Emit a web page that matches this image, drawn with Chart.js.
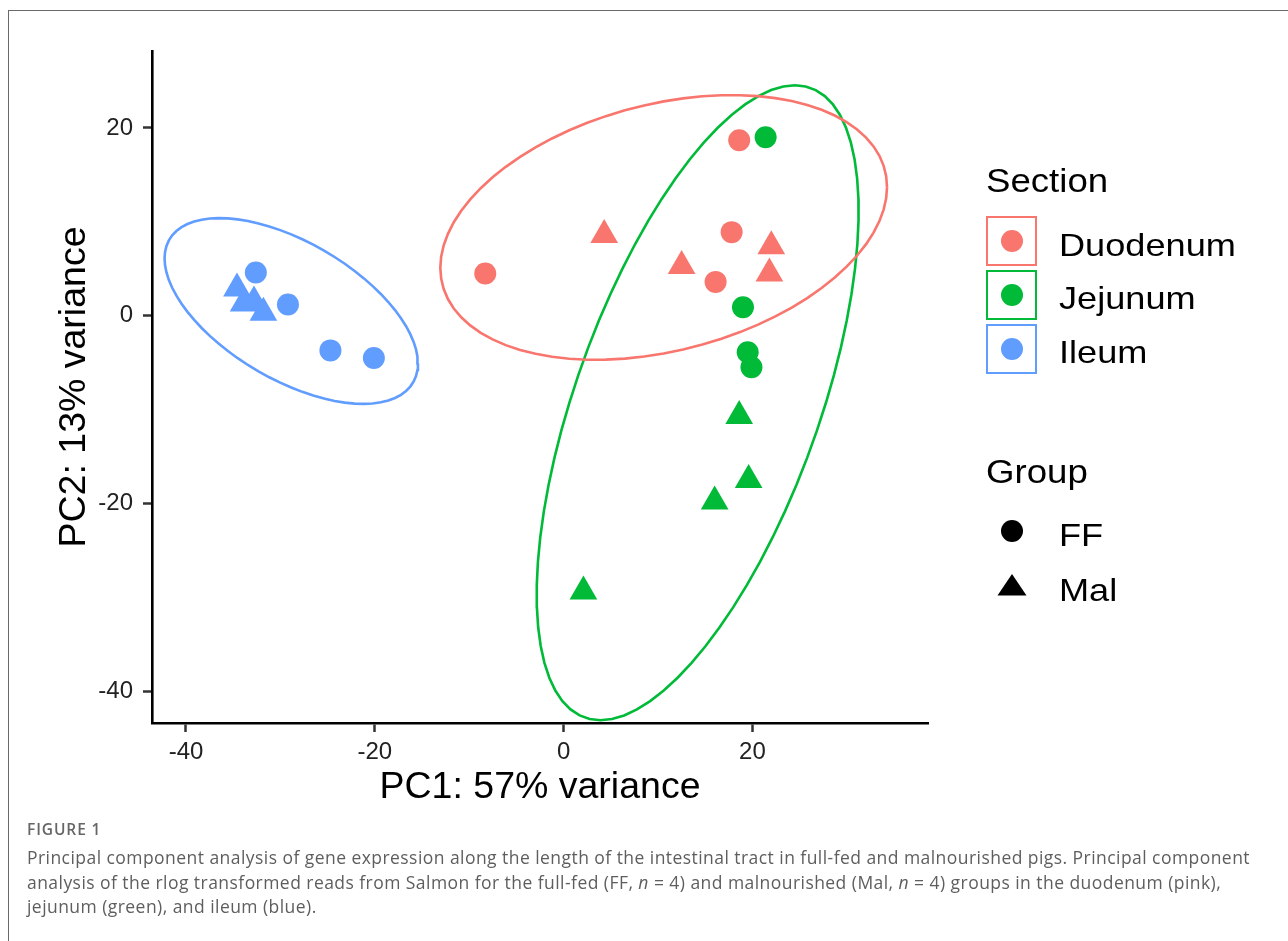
<!DOCTYPE html>
<html>
<head>
<meta charset="utf-8">
<script src="https://cdn.jsdelivr.net/npm/chart.js@4.4.0/dist/chart.umd.min.js"></script>
<style>
  body { margin: 0; background: #fff; width: 1288px; height: 941px; overflow: hidden; position: relative; font-family: "Liberation Sans", Arial, sans-serif; }
  #frame { position: absolute; left: 8px; top: 10px; width: 1400px; height: 1000px; border-left: 1.5px solid #6a6a6a; border-top: 1.5px solid #6a6a6a; }
  #chart { position: absolute; left: 0; top: 0; }
  .leg { position: absolute; color: #000; line-height: 1; white-space: nowrap; transform-origin: left center; }
  .leg-title { font-size: 33px; transform: scaleX(1.11); }
  .leg-text { font-size: 32px; transform: scaleX(1.13); }
  .key { position: absolute; width: 47px; height: 46px; border: 2px solid; }
  .dot { position: absolute; width: 22px; height: 22px; border-radius: 50%; }
  .cap { position: absolute; left: 27px; font-family: "Open Sans", Lato, sans-serif; color: #5e5e5e; white-space: nowrap; }
  #figlabel { top: 818px; font-size: 15.5px; font-weight: 600; letter-spacing: 0.9px; color: #666; }
  #caption { top: 845px; font-size: 17.5px; line-height: 24.5px; }
</style>
</head>
<body>
<div id="frame"></div>
<canvas id="chart" width="1288" height="941"></canvas>

<div class="leg leg-title" style="left:986px; top:164px;">Section</div>
<div id="sectionKeys"></div>
<div class="leg leg-title" style="left:986px; top:455px;">Group</div>
<div id="groupKeys"></div>

<div class="cap" id="figlabel">FIGURE 1</div>
<div class="cap" id="caption"><span id="capline1">Principal component analysis of gene expression along the length of the intestinal tract in full-fed and malnourished pigs. Principal component</span><br>analysis of the rlog transformed reads from Salmon for the full-fed (FF, <i>n</i> = 4) and malnourished (Mal, <i>n</i> = 4) groups in the duodenum (pink),<br>jejunum (green), and ileum (blue).</div>

<script>
// categories
const sections = ["Duodenum", "Jejunum", "Ileum"];
const sectionColors = ["#F8766D", "#00BA38", "#619CFF"];
const groups = ["FF", "Mal"];

// PC1 / PC2 scores, 4 samples per section x group
const duodenumFF_pc1 = [18.6, 17.8, 16.1, -8.3];
const duodenumFF_pc2 = [18.7, 8.9, 3.6, 4.5];
const duodenumMal_pc1 = [4.3, 12.5, 22.0, 21.8];
const duodenumMal_pc2 = [8.6, 5.3, 7.4, 4.5];
const jejunumFF_pc1 = [21.4, 19.0, 19.5, 19.9];
const jejunumFF_pc2 = [19.0, 0.9, -3.9, -5.5];
const jejunumMal_pc1 = [18.6, 19.6, 16.0, 2.1];
const jejunumMal_pc2 = [-10.7, -17.5, -19.8, -29.4];
const ileumFF_pc1 = [-32.6, -29.2, -24.7, -20.1];
const ileumFF_pc2 = [4.6, 1.2, -3.7, -4.5];
const ileumMal_pc1 = [-34.6, -33.9, -32.8, -31.8];
const ileumMal_pc2 = [2.9, 1.3, 1.5, 0.3];

// 95% ellipses (PC units): centre and two conjugate half-axes
const ellipseCx = [10.6, 14.2, -28.85];
const ellipseCy = [9.4, -9.28, 0.5];
const ellipseUx = [23.66, 10.3, 13.42];
const ellipseUy = [4.3, 33.83, -5.6];
const ellipseVx = [0, 13.59, 0];
const ellipseVy = [13.43, 0, 8.16];

const xTicks = [-40, -20, 0, 20];
const yTicks = [-40, -20, 0, 20];

const FONT = "'Liberation Sans', Arial, sans-serif";

const pointsOf = (xs, ys) => xs.map((x, i) => ({ x: x, y: ys[i] }));

const seriesBySection = [
  [[duodenumFF_pc1, duodenumFF_pc2], [duodenumMal_pc1, duodenumMal_pc2]],
  [[jejunumFF_pc1, jejunumFF_pc2], [jejunumMal_pc1, jejunumMal_pc2]],
  [[ileumFF_pc1, ileumFF_pc2], [ileumMal_pc1, ileumMal_pc2]],
];

function ellipseOutline(i) {
  const out = [];
  const segments = 72;
  for (let k = 0; k <= segments; k++) {
    const t = (k * 2 * Math.PI) / segments;
    out.push({
      x: ellipseCx[i] + Math.cos(t) * ellipseUx[i] + Math.sin(t) * ellipseVx[i],
      y: ellipseCy[i] + Math.cos(t) * ellipseUy[i] + Math.sin(t) * ellipseVy[i],
    });
  }
  return out;
}

const datasets = [];
sections.forEach((s, si) => {
  seriesBySection[si].forEach((xy, gi) => {
    datasets.push({
      label: s + " " + groups[gi],
      data: pointsOf(xy[0], xy[1]),
      backgroundColor: sectionColors[si],
      borderWidth: 0,
      pointStyle: gi === 0 ? "circle" : "triangle",
      pointRadius: gi === 0 ? 11 : 16,
      showLine: false,
    });
  });
});
sections.forEach((s, si) => {
  datasets.push({
    label: s + " ellipse",
    data: ellipseOutline(si),
    showLine: true,
    borderColor: sectionColors[si],
    borderWidth: 2.6,
    pointRadius: 0,
    fill: false,
    tension: 0,
  });
});

const axisCommon = {
  type: "linear",
  grid: { display: true, drawOnChartArea: false, drawTicks: true, tickLength: 9, tickWidth: 2.5, tickColor: "#333" },
  border: { display: true, color: "#000", width: 2.6 },
};

new Chart(document.getElementById("chart"), {
  type: "scatter",
  data: { datasets: datasets },
  options: {
    responsive: false,
    animation: false,
    layout: { padding: { left: 0, top: 51, right: 360, bottom: 118 } },
    plugins: { legend: { display: false }, tooltip: { enabled: false } },
    scales: {
      x: {
        ...axisCommon,
        min: -43.6,
        max: 38.6,
        afterBuildTicks: (s) => { s.ticks = xTicks.map((v) => ({ value: v })); },
        afterFit: (s) => { s.height = 100; },
        ticks: { font: { family: FONT, size: 24 }, color: "#222", padding: 6, maxRotation: 0 },
        title: { display: true, text: "PC1: 57% variance", font: { family: FONT, size: 37.5 }, color: "#000", padding: { top: 0, bottom: 13 } },
      },
      y: {
        ...axisCommon,
        min: -43.4,
        max: 28.2,
        afterBuildTicks: (s) => { s.ticks = yTicks.map((v) => ({ value: v })); },
        afterFit: (s) => { s.width = 152; },
        ticks: { font: { family: FONT, size: 24 }, color: "#222", padding: 10 },
        title: { display: true, text: "PC2: 13% variance", font: { family: FONT, size: 37.5 }, color: "#000", padding: { top: 52, bottom: 0 } },
      },
    },
  },
});

// legend for Section (colour) and Group (shape)
const sectionTops = [216, 270, 324];
const sectionTextTops = [229, 282, 336];
let html = "";
sections.forEach((s, i) => {
  html += `<div class="key" style="left:986px; top:${sectionTops[i]}px; border-color:${sectionColors[i]};"></div>`;
  html += `<div class="dot" style="left:1001px; top:${sectionTops[i] + 14}px; background:${sectionColors[i]};"></div>`;
  html += `<div class="leg leg-text" style="left:1059px; top:${sectionTextTops[i]}px;">${s}</div>`;
});
document.getElementById("sectionKeys").innerHTML = html;

const groupText = `
  <div class="dot" style="left:1001px; top:520px; background:#000;"></div>
  <div class="leg leg-text" style="left:1059px; top:519px;">${groups[0]}</div>
  <svg style="position:absolute; left:997px; top:574px;" width="30" height="22"><polygon points="15,0 29.5,21.5 0.5,21.5" fill="#000"/></svg>
  <div class="leg leg-text" style="left:1059px; top:574px;">${groups[1]}</div>`;
document.getElementById("groupKeys").innerHTML = groupText;

// stretch the caption a touch so the first line ends where the figure's does
const line1 = document.getElementById("capline1");
const cap = document.getElementById("caption");
const w1 = line1.getBoundingClientRect().width;
const chars = line1.textContent.length;
cap.style.letterSpacing = ((1223 - w1) / chars).toFixed(3) + "px";
</script>
</body>
</html>
